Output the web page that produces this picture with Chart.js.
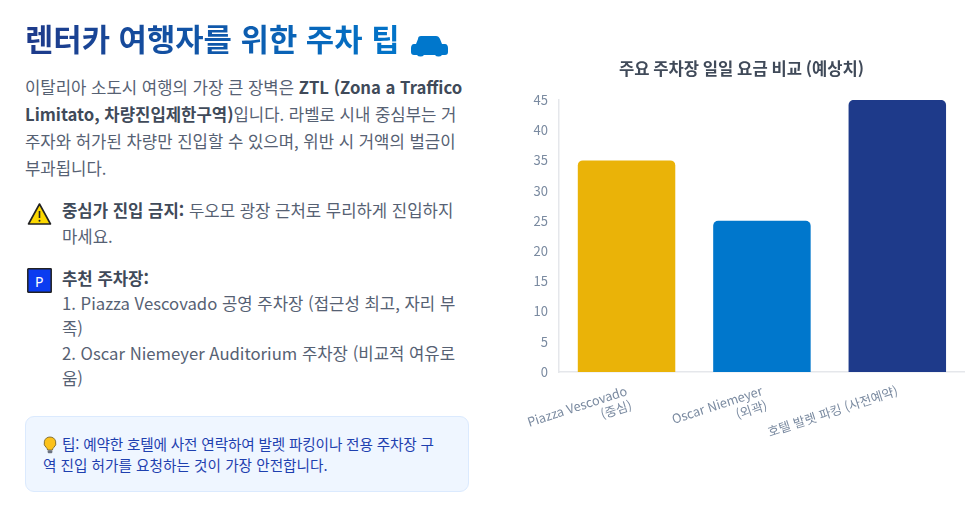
<!DOCTYPE html>
<html lang="ko"><head><meta charset="utf-8">
<script src="https://cdn.jsdelivr.net/npm/chart.js@4"></script>
<style>
html,body{margin:0;padding:0;background:#fff;width:975px;height:516px;overflow:hidden;font-family:"Noto Sans CJK KR","Noto Sans",sans-serif}
.t{position:absolute;white-space:nowrap;color:#566173;font-size:16.7px;line-height:25px}
b{font-weight:700;color:#404a59}
h1{position:absolute;left:25px;top:17px;margin:0;font-size:30.8px;line-height:42px;font-weight:700;white-space:nowrap;background:linear-gradient(90deg,#1e3a8a 0,#0077cc 390px);-webkit-background-clip:text;background-clip:text;color:transparent}
#box{position:absolute;left:25px;top:416px;width:444px;height:76px;background:#eff6ff;border:1px solid #dbeafe;border-radius:9px;box-sizing:border-box}
svg{position:absolute}
#wrap{position:absolute;left:518px;top:50px;width:447px;height:400px}
</style></head><body>
<h1>렌터카 여행자를 위한 주차 팁</h1>
<svg style="left:411px;top:34px" width="37" height="23" viewBox="0 0 37 23"><path fill="#0077cc" d="M10 2h15c2 0 3 1 4 3l2 5h3c2 0 3 2 3 4v4c0 2-1 3-3 3h-3a4 3 0 0 1-7 0H13a4 3 0 0 1-7 0H3c-2 0-3-1-3-3v-4c0-2 1-4 3-4h2l2-5c0-2 1-3 3-3z"/></svg>
<div class="t" style="left:25px;top:75px">이탈리아 소도시 여행의 가장 큰 장벽은 <b>ZTL (Zona a Traffico</b></div>
<div class="t" style="left:25px;top:102px"><b>Limitato, 차량진입제한구역)</b>입니다. 라벨로 시내 중심부는 거</div>
<div class="t" style="left:25px;top:129px">주자와 허가된 차량만 진입할 수 있으며, 위반 시 거액의 벌금이</div>
<div class="t" style="left:25px;top:156px">부과됩니다.</div>
<svg style="left:27px;top:202px" width="25" height="24" viewBox="0 0 25 24"><path d="M12.5 2 L23.5 22 H1.5 Z" fill="#fcd800" stroke="#222" stroke-width="1.6" stroke-linejoin="round"/><path d="M12.5 9v7" stroke="#222" stroke-width="1.6"/><circle cx="12.500" cy="18.800" r="1" fill="#222"/></svg>
<div class="t" style="left:62px;top:198px"><b>중심가 진입 금지:</b> 두오모 광장 근처로 무리하게 진입하지</div>
<div class="t" style="left:62px;top:224px">마세요.</div>
<svg style="left:27px;top:268px" width="25" height="25" viewBox="0 0 25 25"><rect x=".8" y=".8" width="23.400" height="23.400" rx=".5" fill="#0a3cf0" stroke="#222" stroke-width="1.500"/></svg>
<div class="t" style="left:35px;top:269px;color:#fff;font-size:14px;font-family:'Noto Sans'">P</div>
<div class="t" style="left:62px;top:266px"><b>추천 주차장:</b></div>
<div class="t" style="left:62px;top:291px">1. Piazza Vescovado 공영 주차장 (접근성 최고, 자리 부</div>
<div class="t" style="left:62px;top:316px">족)</div>
<div class="t" style="left:62px;top:341px">2. Oscar Niemeyer Auditorium 주차장 (비교적 여유로</div>
<div class="t" style="left:62px;top:366px">움)</div>
<div id="box"></div>
<svg style="left:43px;top:436px" width="14" height="18" viewBox="0 0 14 18"><path d="M7 1a6 6 0 0 0-3.500 10.800c.7.6 1 1.300 1 2.200h5c0-.9.3-1.600 1-2.200A6 6 0 0 0 7 1z" fill="#fcc21b" stroke="#6b5a2a" stroke-width=".8"/><rect x="4.700" y="14.300" width="4.600" height="3" rx="1" fill="#6b7280"/></svg>
<div class="t" style="left:62px;top:433px;font-size:14.65px;line-height:22px;color:#1e40af;letter-spacing:-.17px">팁: 예약한 호텔에 사전 연락하여 발렛 파킹이나 전용 주차장 구</div>
<div class="t" style="left:43px;top:454px;font-size:14.65px;line-height:22px;color:#1e40af">역 진입 허가를 요청하는 것이 가장 안전합니다.</div>
<div id="wrap"><canvas id="c"></canvas></div>
<script>
const categories=[["Piazza Vescovado","(중심)"],["Oscar Niemeyer","(외곽)"],"호텔 발렛 파킹 (사전예약)"];
const fees=[35,25,45];
const barColors=["#eab308","#0077cc","#1e3a8a"];
const chartTitle="주요 주차장 일일 요금 비교 (예상치)";
const font="'Noto Sans CJK KR','Noto Sans',sans-serif";
new Chart(document.getElementById('c'),{type:'bar',
data:{labels:categories,datasets:[{data:fees,backgroundColor:barColors,borderRadius:5,borderSkipped:'bottom'}]},
options:{responsive:true,maintainAspectRatio:false,animation:false,
layout:{padding:0},
plugins:{legend:{display:false},tooltip:{enabled:false},
title:{display:true,text:chartTitle,color:'#404a59',font:{family:font,size:16.6,weight:'700'},padding:{top:9,bottom:21}}},
scales:{
x:{afterFit:s=>{s.height=78},grid:{display:false},border:{color:'#e5e7eb',width:1.5},ticks:{color:'#7a8aa0',font:{family:font,size:12.7},minRotation:18,maxRotation:18,autoSkip:false}},
y:{afterFit:s=>{s.width=40},min:0,max:45,grid:{display:false},border:{color:'#e5e7eb',width:1.5},ticks:{stepSize:5,color:'#7a8aa0',font:{family:font,size:13}}}
}}});
</script>
</body></html>
